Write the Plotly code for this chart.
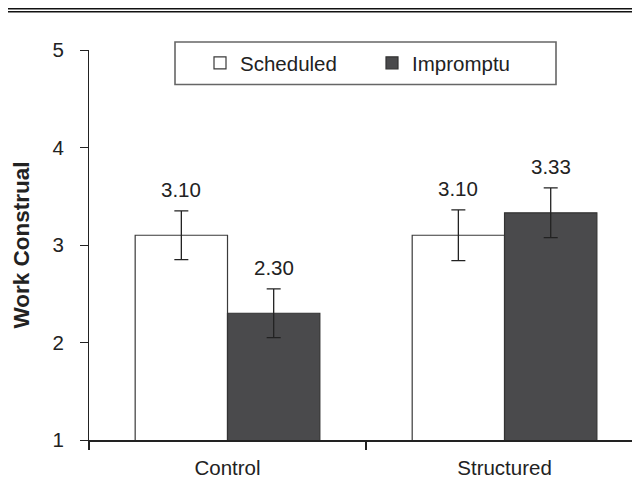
import plotly.graph_objects as go

categories = ["Control", "Structured"]
series_names = ["Scheduled", "Impromptu"]
scheduled_vals = [3.10, 3.10]
impromptu_vals = [2.30, 3.33]
scheduled_err = [0.25, 0.26]
impromptu_err = [0.25, 0.255]
y_ticks = [1, 2, 3, 4, 5]
y_title = "Work Construal"

FONT = "Liberation Sans, Arial, Helvetica, sans-serif"
TXT = "#222222"
OFF = 8  # page body margin
W, H = 640 - OFF, 504 - OFF
ML, MR, MT, MB = 89 - OFF, 0, 50 - OFF, 504 - 440
BARGAP = 1 / 3

fig = go.Figure()
fig.add_trace(go.Bar(
    name=series_names[0], x=categories, y=scheduled_vals,
    marker=dict(color="white", line=dict(color="#3a3a3a", width=1.2)),
    error_y=dict(type="data", array=scheduled_err, color="#222", thickness=1.3, width=7),
))
fig.add_trace(go.Bar(
    name=series_names[1], x=categories, y=impromptu_vals,
    marker=dict(color="#4a4a4c", line=dict(color="#333333", width=1.2)),
    error_y=dict(type="data", array=impromptu_err, color="#222", thickness=1.3, width=7),
))

# value labels above error bars
bw = (1 - BARGAP) / 2
for j, (vals, errs) in enumerate([(scheduled_vals, scheduled_err), (impromptu_vals, impromptu_err)]):
    for i, (v, e) in enumerate(zip(vals, errs)):
        fig.add_annotation(
            x=i + (j - 0.5) * bw, y=v + e, xref="x", yref="y",
            text=f"{v:.2f}", showarrow=False, yanchor="bottom", yshift=8,
            font=dict(family=FONT, size=20.5, color=TXT),
        )

pw = W - ML - MR
ph = H - MT - MB
def px(xw):  # window x -> paper
    return (xw - OFF - ML) / pw
def py(yw):  # window y -> paper
    return (H - MB - (yw - OFF)) / ph

shapes = [
    # double rule at top
    dict(type="line", xref="paper", yref="paper", x0=px(7), x1=px(641), y0=py(8), y1=py(8),
         line=dict(color="#111", width=3)),
    dict(type="line", xref="paper", yref="paper", x0=px(7), x1=px(641), y0=py(11.8), y1=py(11.8),
         line=dict(color="#111", width=1.6)),
    # legend box
    dict(type="rect", xref="paper", yref="paper", x0=px(175), x1=px(556), y0=py(42), y1=py(84.5),
         line=dict(color="#666", width=1.6), fillcolor="rgba(0,0,0,0)"),
]

fig.update_layout(
    width=W, height=H,
    margin=dict(l=ML, r=MR, t=MT, b=MB, pad=0),
    paper_bgcolor="white", plot_bgcolor="white",
    barmode="group", bargap=BARGAP, bargroupgap=0,
    font=dict(family=FONT, size=20.5, color=TXT),
    showlegend=True,
    legend=dict(orientation="h", x=px(200), y=py(63), xanchor="left", yanchor="middle",
                bgcolor="rgba(0,0,0,0)", borderwidth=0,
                entrywidth=127, entrywidthmode="pixels",
                font=dict(family=FONT, size=20.5, color=TXT)),
    shapes=shapes,
    xaxis=dict(type="category", range=[-0.5, 1.489], showline=True, linecolor="#222", linewidth=2,
               ticks="outside", tickson="boundaries", ticklen=8, tickwidth=1.5, tickcolor="#222",
               showgrid=False, zeroline=False, ticklabelstandoff=8,
               tickfont=dict(family=FONT, size=20.5, color=TXT)),
    yaxis=dict(range=[1, 5], tickvals=y_ticks, showline=True, linecolor="#222", linewidth=1.2,
               ticks="outside", ticklen=8, tickwidth=1.3, tickcolor="#222",
               showgrid=False, zeroline=False, ticklabelstandoff=12,
               tickfont=dict(family=FONT, size=20.5, color=TXT),
               title=dict(text=f"<b>{y_title}</b>", standoff=16,
                          font=dict(family=FONT, size=22.5, color=TXT))),
)

fig.write_html("out.html")
